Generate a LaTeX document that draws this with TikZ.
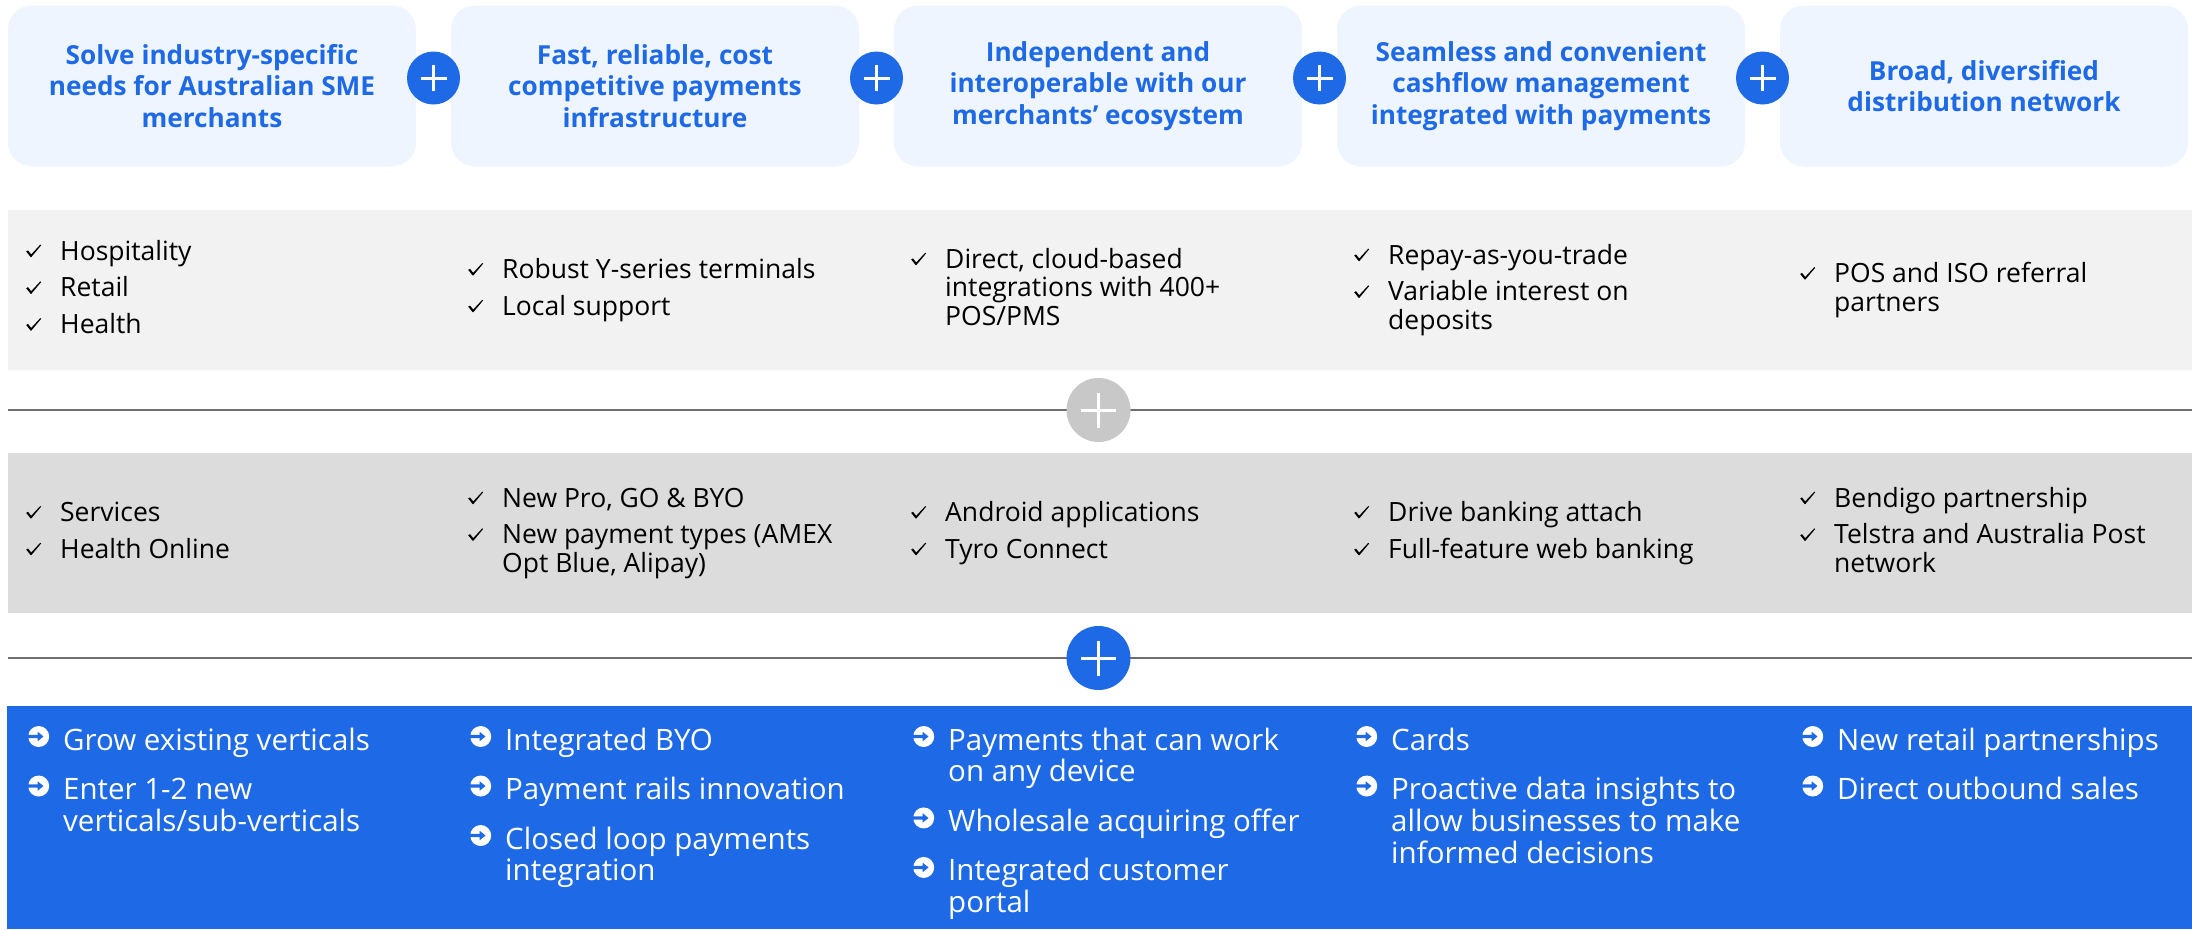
\documentclass[tikz,border=0pt]{standalone}
\usepackage{fontspec}
\setmainfont{Open Sans}
\definecolor{TyroBlue}{HTML}{1E69E5}
\definecolor{TitleFill}{HTML}{EEF5FE}
\definecolor{RowOne}{HTML}{F2F2F2}
\definecolor{RowTwo}{HTML}{DCDCDC}
\definecolor{PlusGray}{HTML}{C8C8C8}
\definecolor{RuleGray}{HTML}{6E6E6E}
\newcommand\TitleFont{\bfseries\fontsize{26.2}{31.7}\selectfont}
\newcommand\GrayFont{\fontsize{26.5}{28.7}\selectfont}
\newcommand\BlueFont{\fontsize{29.5}{31.7}\selectfont}
% list markers
\newsavebox\ArrBox
\sbox\ArrBox{\tikz[baseline=-3pt, x=1pt, y=1pt]{%
    \fill[white] (10.5,10.5) circle[radius=10.5pt];
    \fill[TyroBlue] (-1,8.9) -- (9.5,8.9) -- (9.5,5.8) -- (15.3,10.5) -- (9.5,15.2) -- (9.5,12.1) -- (-1,12.1) -- cycle;}}
\newsavebox\ChkBox
\sbox\ChkBox{\tikz[baseline=-3pt, x=1pt, y=1pt]{%
    \fill[black] (0,5.5) -- (1.8,6.6) -- (5,2.6) -- (14,12.3) -- (15,11.8) -- (5.2,0) -- (4.4,0) -- cycle;}}
\newcommand\Chk{\makebox[34pt][l]{\usebox\ChkBox}}
\newcommand\Arr{\makebox[36pt][l]{\usebox\ArrBox}}
\newcommand\PlusDisc[5]{%
    \node[plusdisc, fill=#3, minimum size=#4] (#1) at (#2) {};
    \draw[plusbar] ([xshift=-#5]#1.center) -- ([xshift=#5]#1.center);
    \draw[plusbar] ([yshift=-#5]#1.center) -- ([yshift=#5]#1.center);
}
\newcommand\GrayList[3]{%
    \node[graylist] (#1) at (#2) {\begin{tabular}{@{}l@{}l@{}}#3\end{tabular}};
}
\newcommand\BlueList[3]{%
    \node[bluelist] (#1) at (#2) {\begin{tabular}[t]{@{}l@{}l@{}}#3\end{tabular}};
}

\begin{document}
\begin{tikzpicture}[x=1pt, y=-1pt,
    titlebox/.style={rounded corners=24pt, fill=TitleFill, minimum width=408pt, minimum height=161pt, inner sep=0pt, align=center, text=TyroBlue, font=\TitleFont},
    plusdisc/.style={circle, inner sep=0pt},
    plusbar/.style={white, line width=3pt},
    graylist/.style={inner sep=0pt, anchor=west, font=\GrayFont},
    bluelist/.style={inner sep=0pt, anchor=base west, font=\BlueFont, text=white},
    rule/.style={RuleGray, line width=1.6pt}]
    \useasboundingbox (0,0) rectangle (2192,929);
    % value proposition boxes
    \node[titlebox] (Solve) at (212,86) {Solve industry-specific\\needs for Australian SME\\merchants};
    \node[titlebox] (Fast) at (655,86) {Fast, reliable, cost\\competitive payments\\infrastructure};
    \node[titlebox] (Independent) at (1098,86) {Independent and\\interoperable with our\\merchants’ ecosystem};
    \node[titlebox] (Seamless) at (1541,86) {Seamless and convenient\\cashflow management\\integrated with payments};
    \node[titlebox] (Broad) at (1984,86) {Broad, diversified\\distribution network};
    \PlusDisc{PlusA}{433.5,78}{TyroBlue}{53pt}{13pt}
    \PlusDisc{PlusB}{876.5,78}{TyroBlue}{53pt}{13pt}
    \PlusDisc{PlusC}{1319.5,78}{TyroBlue}{53pt}{13pt}
    \PlusDisc{PlusD}{1762.5,78}{TyroBlue}{53pt}{13pt}
    % today
    \fill[RowOne] (8,210) rectangle (2192,370);
    \GrayList{NowSolve}{26,291}{\Chk & Hospitality\\[8pt] \Chk & Retail\\[8pt] \Chk & Health}
    \GrayList{NowFast}{468,291}{\Chk & Robust Y-series terminals\\[8pt] \Chk & Local support}
    \GrayList{NowIndependent}{911,291}{\Chk & Direct, cloud-based\\ & integrations with 400+\\ & POS/PMS}
    \GrayList{NowSeamless}{1354,291}{\Chk & Repay-as-you-trade\\[8pt] \Chk & Variable interest on\\ & deposits}
    \GrayList{NowBroad}{1800,291}{\Chk & POS and ISO referral\\ & partners}
    \coordinate (RuleOneL) at (8,410);
    \coordinate (RuleOneR) at (2192,410);
    \draw[rule] (RuleOneL) -- (RuleOneR);
    \PlusDisc{PlusNext}{1098.5,410}{PlusGray}{64pt}{17.5pt}
    % next
    \fill[RowTwo] (8,453) rectangle (2192,613);
    \GrayList{NextSolve}{26,534}{\Chk & Services\\[8pt] \Chk & Health Online}
    \GrayList{NextFast}{468,534}{\Chk & New Pro, GO \& BYO\\[8pt] \Chk & New payment types (AMEX\\ & Opt Blue, Alipay)}
    \GrayList{NextIndependent}{911,534}{\Chk & Android applications\\[8pt] \Chk & Tyro Connect}
    \GrayList{NextSeamless}{1354,534}{\Chk & Drive banking attach\\[8pt] \Chk & Full-feature web banking}
    \GrayList{NextBroad}{1800,534}{\Chk & Bendigo partnership\\[8pt] \Chk & Telstra and Australia Post\\ & network}
    \coordinate (RuleTwoL) at (8,658);
    \coordinate (RuleTwoR) at (2192,658);
    \draw[rule] (RuleTwoL) -- (RuleTwoR);
    \PlusDisc{PlusLater}{1098.5,658}{TyroBlue}{64pt}{17.5pt}
    % later
    \fill[TyroBlue] (7,706) rectangle (2192,929);
    \BlueList{LaterSolve}{27,750}{\Arr & Grow existing verticals\\[16pt] \Arr & Enter 1-2 new\\ & verticals/sub-verticals}
    \BlueList{LaterFast}{469,750}{\Arr & Integrated BYO\\[16pt] \Arr & Payment rails innovation\\[16pt] \Arr & Closed loop payments\\ & integration}
    \BlueList{LaterIndependent}{912,750}{\Arr & Payments that can work\\ & on any device\\[16pt] \Arr & Wholesale acquiring offer\\[16pt] \Arr & Integrated customer\\ & portal}
    \BlueList{LaterSeamless}{1355,750}{\Arr & Cards\\[16pt] \Arr & Proactive data insights to\\ & allow businesses to make\\ & informed decisions}
    \BlueList{LaterBroad}{1801,750}{\Arr & New retail partnerships\\[16pt] \Arr & Direct outbound sales}
\end{tikzpicture}
\end{document}
